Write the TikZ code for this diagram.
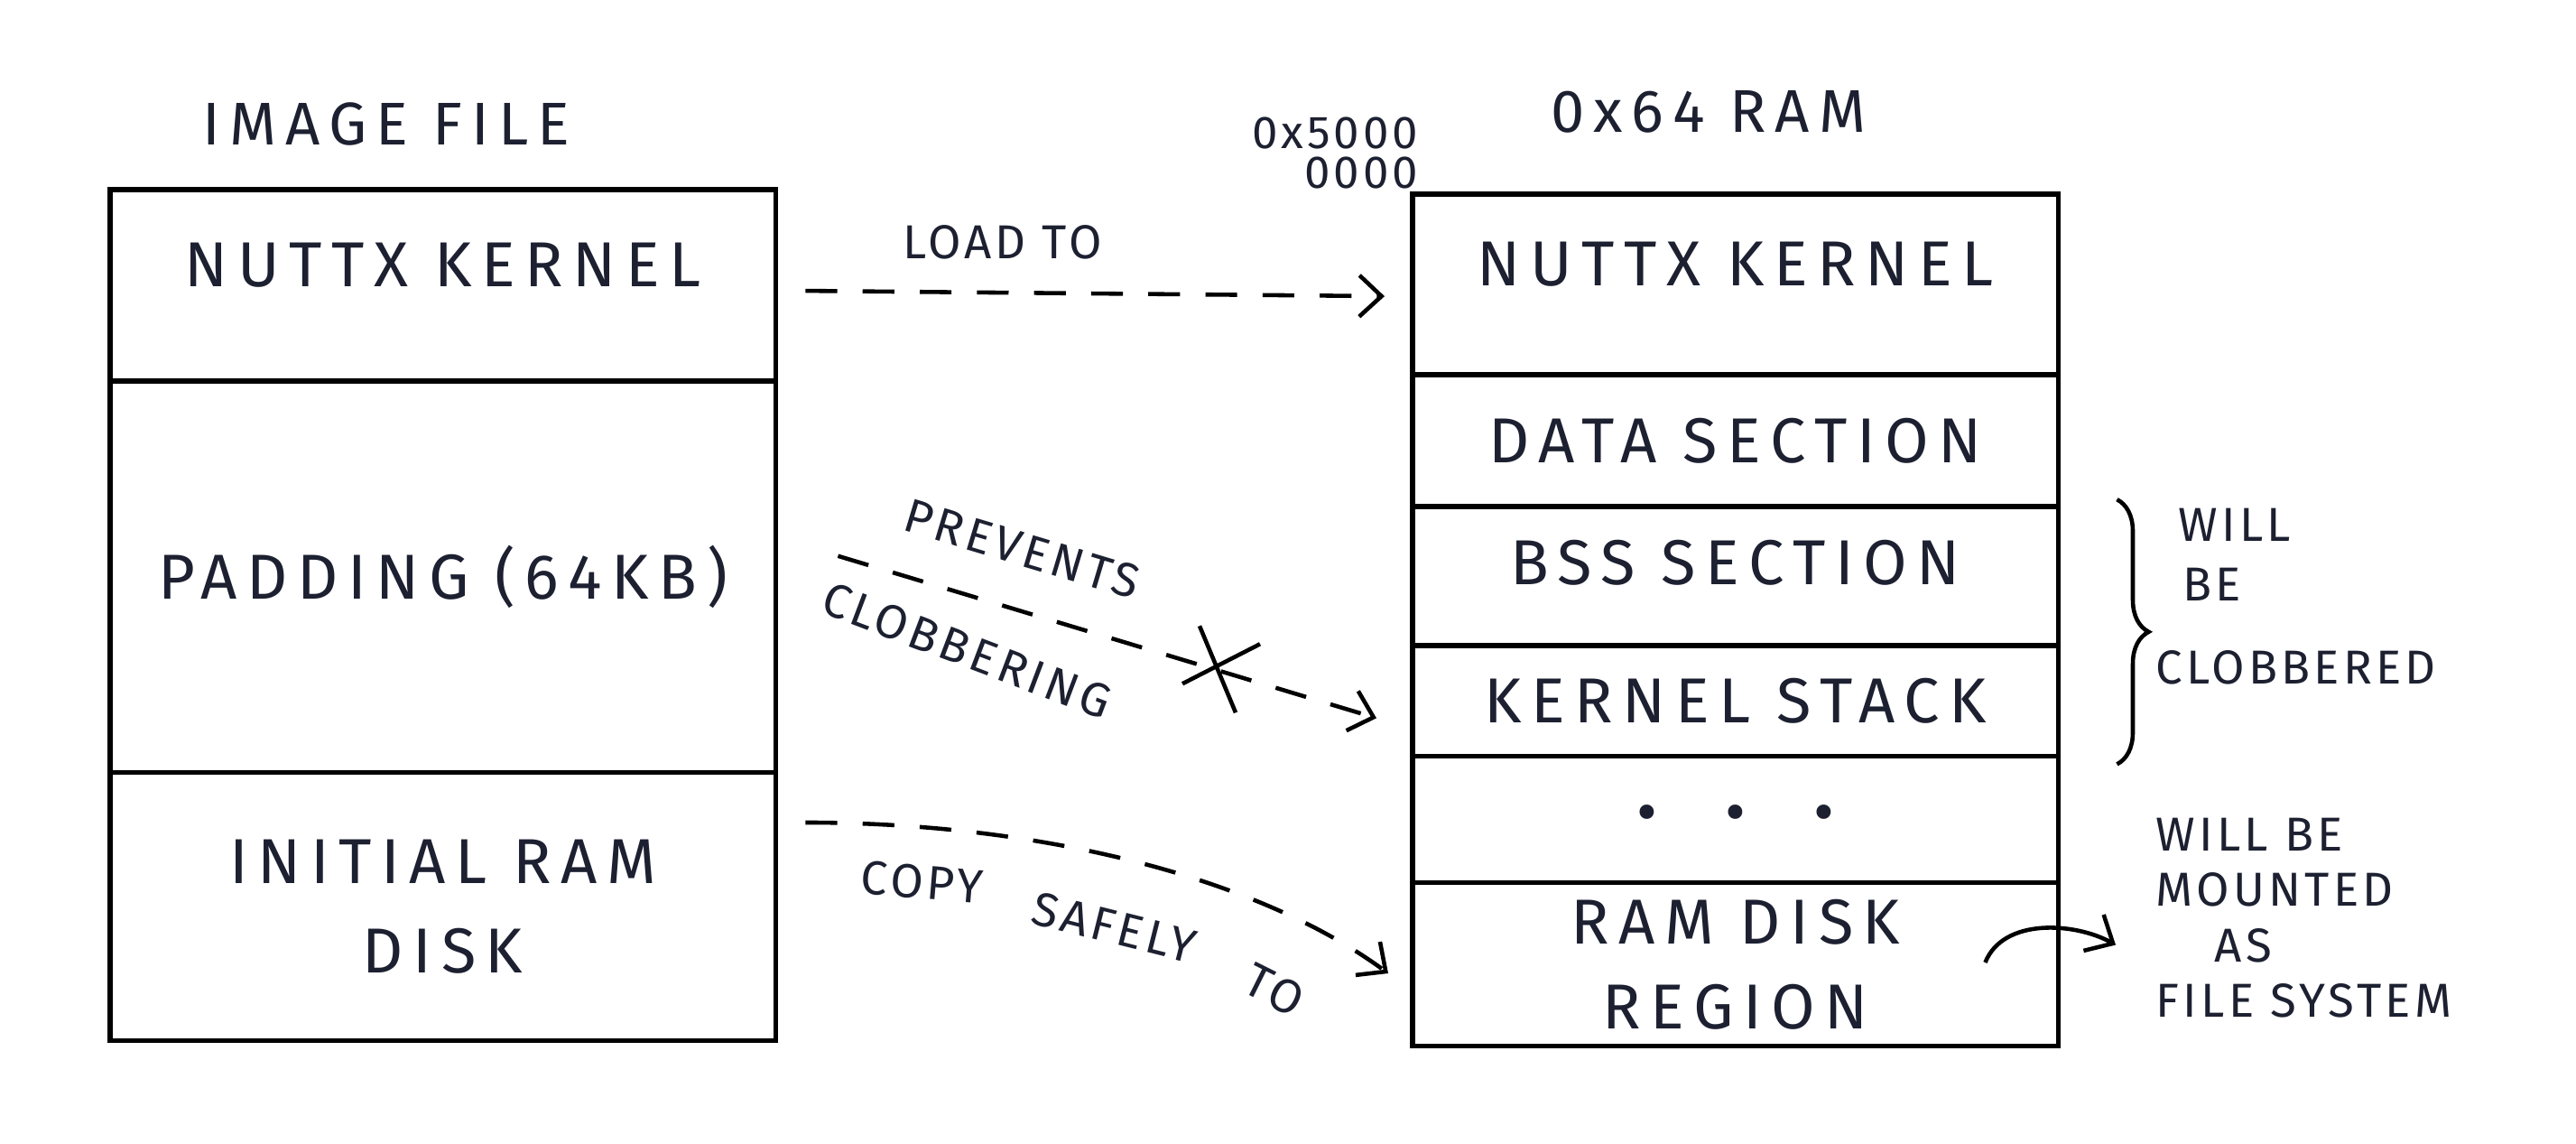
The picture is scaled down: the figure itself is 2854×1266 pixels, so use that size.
\documentclass[tikz,border=0pt]{standalone}
\usepackage{fontspec}
\usetikzlibrary{positioning,arrows.meta,decorations.pathreplacing}
\newfontfamily\inkfont[LetterSpace=15]{Fira Sans}
\newfontfamily\notefont[LetterSpace=8]{Fira Sans}
\definecolor{ink}{RGB}{28,32,48}
\tikzset{
  cell/.style={draw, line width=1.6pt, inner sep=0pt, outer sep=0pt, text=ink,
    font=\inkfont\fontsize{20}{24}\selectfont},
  imgcell/.style={cell, minimum width=7.37cm},
  ramcell/.style={cell, minimum width=7.15cm},
  raised/.style={text depth=0.45cm},
  title/.style={text=ink, inner sep=0pt, font=\inkfont\fontsize{19}{22}\selectfont},
  note/.style={text=ink, inner sep=0pt, align=left, font=\notefont\fontsize{15}{17.5}\selectfont},
  flow/.style={line width=1.3pt, dash pattern=on 10pt off 8pt,
    -{Straight Barb[length=7pt, width=13pt, line width=1.3pt]}},
  pen/.style={line width=1.3pt},
}
\begin{document}
\begin{tikzpicture}[x=0.01cm, y=-0.01cm]
\useasboundingbox (0,0) rectangle (2854,1266);

% image file
\node[title] (imgtitle) at (428,137) {IMAGE FILE};
\node[imgcell, raised, minimum height=2.12cm, anchor=north west] (imgkern) at (122,210) {NUTTX KERNEL};
\node[imgcell, minimum height=4.33cm, below=0pt of imgkern] (imgpad) {PADDING (64KB)};
\node[imgcell, minimum height=2.97cm, below=0pt of imgpad, align=center] (imgdisk) {INITIAL RAM\\[0.15cm]DISK};

% ram
\node[title] (ramtitle) at (1893,124) {0x64 RAM};
\node[note, font=\notefont\fontsize{14.5}{12.5}\selectfont, align=right, anchor=south east] (ramaddr) at (1572,210) {0x5000\\0000};
\node[ramcell, raised, minimum height=2.00cm, anchor=north west] (ramkern) at (1565,215) {NUTTX KERNEL};
\node[ramcell, minimum height=1.46cm, below=0pt of ramkern] (ramdata) {DATA SECTION};
\node[ramcell, minimum height=1.54cm, below=0pt of ramdata, text depth=0.3cm] (rambss) {BSS SECTION};
\node[ramcell, minimum height=1.22cm, below=0pt of rambss] (ramstack) {KERNEL STACK};
\node[ramcell, minimum height=1.40cm, below=0pt of ramstack] (ramdots) {•\hspace{0.75cm}•\hspace{0.75cm}•};
\node[ramcell, minimum height=1.81cm, below=0pt of ramdots, align=center] (ramdisk) {RAM DISK\\[0.1cm]REGION};

% notes on the right
\node[note, anchor=north west] (clobnote) at (2388,562) {\hspace*{0.25cm}WILL\\[1.5pt]\hspace*{0.3cm}BE\\[8.5pt]CLOBBERED};
\node[note, anchor=north west] (mountnote) at (2388,905) {WILL BE\\MOUNTED\\\hspace*{0.65cm}AS\\FILE SYSTEM};

% arrows
\draw[flow] ([shift={(33,6)}]imgkern.east) -- node[note, above=0.35cm, pos=0.34] (loadlbl) {LOAD TO} ([shift={(-31,13)}]ramkern.west);
\draw[flow] ([shift={(69,-23)}]imgpad.east) -- coordinate[pos=0.71] (nope)
  node[note, sloped, above=0.45cm, pos=0.31] (prevlbl) {PREVENTS}
  node[note, sloped, below=0.38cm, pos=0.27, rotate=-4] (cloblbl) {CLOBBERING}
  ([shift={(-40,19)}]ramstack.west);
\draw[pen] (nope) +(-23,-50) -- +(17,46) (nope) +(-42,14) -- +(44,-30);
\draw[flow] ([shift={(33,-93)}]imgdisk.east) .. controls +(250,0) and +(-150,-110) .. ([shift={(-27,10)}]ramdisk.west)
  node[note, sloped, pos=0.18, below=0.4cm] (copylbl) {COPY}
  node[note, sloped, pos=0.5, below=0.55cm] (safelbl) {SAFELY}
  node[note, sloped, pos=0.82, below=0.6cm] (tolbl) {TO};

% brace and mount arrow
\draw[pen, decorate, decoration={brace, amplitude=10pt}] ([shift={(65,-8)}]rambss.north east) -- ([shift={(65,9)}]ramstack.south east);
\draw[pen, -{Straight Barb[length=7pt, width=13pt, line width=1.3pt]}] ([shift={(-81,-2)}]ramdisk.east) .. controls +(20,-50) and +(-45,-25) .. ([shift={(-44,30)}]mountnote.west);
\end{tikzpicture}
\end{document}
